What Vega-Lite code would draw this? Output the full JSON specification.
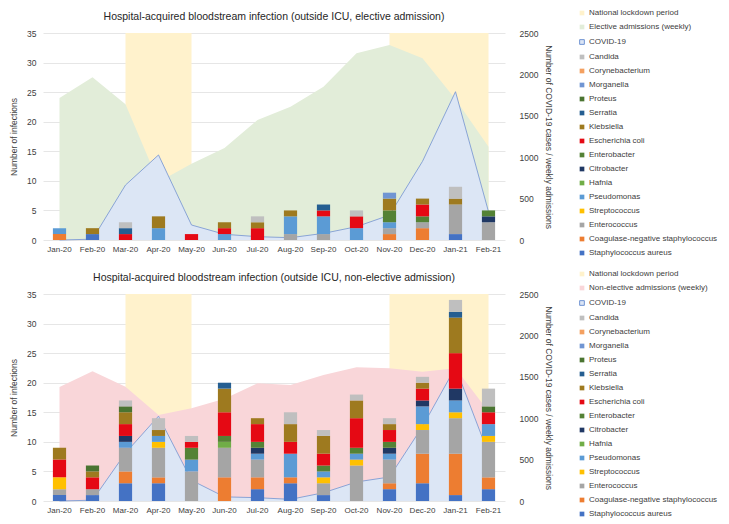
{
  "$schema": "https://vega.github.io/schema/vega-lite/v6.json",
  "padding": {"left": 9, "top": 9, "right": 0, "bottom": 0},
  "background": "white",
  "config": {
    "font": "Liberation Sans",
    "view": {"stroke": null},
    "axis": {"labelColor": "#404040", "titleColor": "#404040", "titleFontWeight": "normal", "labelFont": "Liberation Sans", "titleFont": "Liberation Sans"},
    "legend": {"labelColor": "#404040", "labelFont": "Liberation Sans"}
  },
  "datasets": {
    "top_lines": [
      {"month": "Mar-20", "series": "National lockdown period", "period": "1", "value": 2500},
      {"month": "Apr-20", "series": "National lockdown period", "period": "1", "value": 2500},
      {"month": "May-20", "series": "National lockdown period", "period": "1", "value": 2500},
      {"month": "Nov-20", "series": "National lockdown period", "period": "2", "value": 2500},
      {"month": "Dec-20", "series": "National lockdown period", "period": "2", "value": 2500},
      {"month": "Jan-21", "series": "National lockdown period", "period": "2", "value": 2500},
      {"month": "Feb-21", "series": "National lockdown period", "period": "2", "value": 2500},
      {"month": "Jan-20", "series": "Elective admissions (weekly)", "period": "0", "value": 1715},
      {"month": "Feb-20", "series": "Elective admissions (weekly)", "period": "0", "value": 1965},
      {"month": "Mar-20", "series": "Elective admissions (weekly)", "period": "0", "value": 1640},
      {"month": "Apr-20", "series": "Elective admissions (weekly)", "period": "0", "value": 700},
      {"month": "May-20", "series": "Elective admissions (weekly)", "period": "0", "value": 920},
      {"month": "Jun-20", "series": "Elective admissions (weekly)", "period": "0", "value": 1110},
      {"month": "Jul-20", "series": "Elective admissions (weekly)", "period": "0", "value": 1450},
      {"month": "Aug-20", "series": "Elective admissions (weekly)", "period": "0", "value": 1610},
      {"month": "Sep-20", "series": "Elective admissions (weekly)", "period": "0", "value": 1850},
      {"month": "Oct-20", "series": "Elective admissions (weekly)", "period": "0", "value": 2255},
      {"month": "Nov-20", "series": "Elective admissions (weekly)", "period": "0", "value": 2355},
      {"month": "Dec-20", "series": "Elective admissions (weekly)", "period": "0", "value": 2195},
      {"month": "Jan-21", "series": "Elective admissions (weekly)", "period": "0", "value": 1700},
      {"month": "Feb-21", "series": "Elective admissions (weekly)", "period": "0", "value": 1125},
      {"month": "Jan-20", "series": "COVID-19", "period": "0", "value": 0},
      {"month": "Feb-20", "series": "COVID-19", "period": "0", "value": 10},
      {"month": "Mar-20", "series": "COVID-19", "period": "0", "value": 664},
      {"month": "Apr-20", "series": "COVID-19", "period": "0", "value": 1027},
      {"month": "May-20", "series": "COVID-19", "period": "0", "value": 181},
      {"month": "Jun-20", "series": "COVID-19", "period": "0", "value": 69},
      {"month": "Jul-20", "series": "COVID-19", "period": "0", "value": 40},
      {"month": "Aug-20", "series": "COVID-19", "period": "0", "value": 28},
      {"month": "Sep-20", "series": "COVID-19", "period": "0", "value": 80},
      {"month": "Oct-20", "series": "COVID-19", "period": "0", "value": 161},
      {"month": "Nov-20", "series": "COVID-19", "period": "0", "value": 300},
      {"month": "Dec-20", "series": "COVID-19", "period": "0", "value": 950},
      {"month": "Jan-21", "series": "COVID-19", "period": "0", "value": 1791},
      {"month": "Feb-21", "series": "COVID-19", "period": "0", "value": 342}
    ],
    "bottom_lines": [
      {"month": "Mar-20", "series": "National lockdown period", "period": "1", "value": 2500},
      {"month": "Apr-20", "series": "National lockdown period", "period": "1", "value": 2500},
      {"month": "May-20", "series": "National lockdown period", "period": "1", "value": 2500},
      {"month": "Nov-20", "series": "National lockdown period", "period": "2", "value": 2500},
      {"month": "Dec-20", "series": "National lockdown period", "period": "2", "value": 2500},
      {"month": "Jan-21", "series": "National lockdown period", "period": "2", "value": 2500},
      {"month": "Feb-21", "series": "National lockdown period", "period": "2", "value": 2500},
      {"month": "Jan-20", "series": "Non-elective admissions (weekly)", "period": "0", "value": 1378},
      {"month": "Feb-20", "series": "Non-elective admissions (weekly)", "period": "0", "value": 1568},
      {"month": "Mar-20", "series": "Non-elective admissions (weekly)", "period": "0", "value": 1380},
      {"month": "Apr-20", "series": "Non-elective admissions (weekly)", "period": "0", "value": 1039},
      {"month": "May-20", "series": "Non-elective admissions (weekly)", "period": "0", "value": 1120},
      {"month": "Jun-20", "series": "Non-elective admissions (weekly)", "period": "0", "value": 1235},
      {"month": "Jul-20", "series": "Non-elective admissions (weekly)", "period": "0", "value": 1421},
      {"month": "Aug-20", "series": "Non-elective admissions (weekly)", "period": "0", "value": 1401},
      {"month": "Sep-20", "series": "Non-elective admissions (weekly)", "period": "0", "value": 1522},
      {"month": "Oct-20", "series": "Non-elective admissions (weekly)", "period": "0", "value": 1614},
      {"month": "Nov-20", "series": "Non-elective admissions (weekly)", "period": "0", "value": 1602},
      {"month": "Dec-20", "series": "Non-elective admissions (weekly)", "period": "0", "value": 1562},
      {"month": "Jan-21", "series": "Non-elective admissions (weekly)", "period": "0", "value": 1602},
      {"month": "Feb-21", "series": "Non-elective admissions (weekly)", "period": "0", "value": 1080},
      {"month": "Jan-20", "series": "COVID-19", "period": "0", "value": 0},
      {"month": "Feb-20", "series": "COVID-19", "period": "0", "value": 10},
      {"month": "Mar-20", "series": "COVID-19", "period": "0", "value": 580},
      {"month": "Apr-20", "series": "COVID-19", "period": "0", "value": 1025},
      {"month": "May-20", "series": "COVID-19", "period": "0", "value": 250},
      {"month": "Jun-20", "series": "COVID-19", "period": "0", "value": 50},
      {"month": "Jul-20", "series": "COVID-19", "period": "0", "value": 40},
      {"month": "Aug-20", "series": "COVID-19", "period": "0", "value": 20},
      {"month": "Sep-20", "series": "COVID-19", "period": "0", "value": 100},
      {"month": "Oct-20", "series": "COVID-19", "period": "0", "value": 230},
      {"month": "Nov-20", "series": "COVID-19", "period": "0", "value": 290},
      {"month": "Dec-20", "series": "COVID-19", "period": "0", "value": 900},
      {"month": "Jan-21", "series": "COVID-19", "period": "0", "value": 1615},
      {"month": "Feb-21", "series": "COVID-19", "period": "0", "value": 570}
    ],
    "top_bars": [
      {"month": "Jan-20", "series": "Coagulase-negative staphylococcus", "n": 1},
      {"month": "Jan-20", "series": "Pseudomonas", "n": 1},
      {"month": "Feb-20", "series": "Staphylococcus aureus", "n": 1},
      {"month": "Feb-20", "series": "Klebsiella", "n": 1},
      {"month": "Mar-20", "series": "Escherichia coli", "n": 1},
      {"month": "Mar-20", "series": "Serratia", "n": 1},
      {"month": "Mar-20", "series": "Candida", "n": 1},
      {"month": "Apr-20", "series": "Pseudomonas", "n": 2},
      {"month": "Apr-20", "series": "Klebsiella", "n": 2},
      {"month": "May-20", "series": "Escherichia coli", "n": 1},
      {"month": "Jun-20", "series": "Pseudomonas", "n": 1},
      {"month": "Jun-20", "series": "Escherichia coli", "n": 1},
      {"month": "Jun-20", "series": "Klebsiella", "n": 1},
      {"month": "Jul-20", "series": "Escherichia coli", "n": 2},
      {"month": "Jul-20", "series": "Klebsiella", "n": 1},
      {"month": "Jul-20", "series": "Candida", "n": 1},
      {"month": "Aug-20", "series": "Enterococcus", "n": 1},
      {"month": "Aug-20", "series": "Pseudomonas", "n": 3},
      {"month": "Aug-20", "series": "Klebsiella", "n": 1},
      {"month": "Sep-20", "series": "Enterococcus", "n": 1},
      {"month": "Sep-20", "series": "Pseudomonas", "n": 3},
      {"month": "Sep-20", "series": "Escherichia coli", "n": 1},
      {"month": "Sep-20", "series": "Serratia", "n": 1},
      {"month": "Oct-20", "series": "Pseudomonas", "n": 2},
      {"month": "Oct-20", "series": "Escherichia coli", "n": 2},
      {"month": "Oct-20", "series": "Candida", "n": 1},
      {"month": "Nov-20", "series": "Coagulase-negative staphylococcus", "n": 1},
      {"month": "Nov-20", "series": "Enterococcus", "n": 1},
      {"month": "Nov-20", "series": "Pseudomonas", "n": 1},
      {"month": "Nov-20", "series": "Enterobacter", "n": 2},
      {"month": "Nov-20", "series": "Klebsiella", "n": 2},
      {"month": "Nov-20", "series": "Morganella", "n": 1},
      {"month": "Dec-20", "series": "Coagulase-negative staphylococcus", "n": 2},
      {"month": "Dec-20", "series": "Enterococcus", "n": 1},
      {"month": "Dec-20", "series": "Enterobacter", "n": 1},
      {"month": "Dec-20", "series": "Escherichia coli", "n": 2},
      {"month": "Dec-20", "series": "Klebsiella", "n": 1},
      {"month": "Jan-21", "series": "Staphylococcus aureus", "n": 1},
      {"month": "Jan-21", "series": "Enterococcus", "n": 5},
      {"month": "Jan-21", "series": "Klebsiella", "n": 1},
      {"month": "Jan-21", "series": "Candida", "n": 2},
      {"month": "Feb-21", "series": "Enterococcus", "n": 3},
      {"month": "Feb-21", "series": "Citrobacter", "n": 1},
      {"month": "Feb-21", "series": "Enterobacter", "n": 1}
    ],
    "bottom_bars": [
      {"month": "Jan-20", "series": "Staphylococcus aureus", "n": 1},
      {"month": "Jan-20", "series": "Enterococcus", "n": 1},
      {"month": "Jan-20", "series": "Streptococcus", "n": 2},
      {"month": "Jan-20", "series": "Escherichia coli", "n": 3},
      {"month": "Jan-20", "series": "Klebsiella", "n": 2},
      {"month": "Feb-20", "series": "Staphylococcus aureus", "n": 1},
      {"month": "Feb-20", "series": "Enterococcus", "n": 1},
      {"month": "Feb-20", "series": "Escherichia coli", "n": 2},
      {"month": "Feb-20", "series": "Klebsiella", "n": 1},
      {"month": "Feb-20", "series": "Proteus", "n": 1},
      {"month": "Mar-20", "series": "Staphylococcus aureus", "n": 3},
      {"month": "Mar-20", "series": "Coagulase-negative staphylococcus", "n": 2},
      {"month": "Mar-20", "series": "Enterococcus", "n": 4},
      {"month": "Mar-20", "series": "Pseudomonas", "n": 1},
      {"month": "Mar-20", "series": "Citrobacter", "n": 1},
      {"month": "Mar-20", "series": "Escherichia coli", "n": 2},
      {"month": "Mar-20", "series": "Klebsiella", "n": 2},
      {"month": "Mar-20", "series": "Proteus", "n": 1},
      {"month": "Mar-20", "series": "Candida", "n": 1},
      {"month": "Apr-20", "series": "Staphylococcus aureus", "n": 3},
      {"month": "Apr-20", "series": "Coagulase-negative staphylococcus", "n": 1},
      {"month": "Apr-20", "series": "Enterococcus", "n": 5},
      {"month": "Apr-20", "series": "Streptococcus", "n": 1},
      {"month": "Apr-20", "series": "Pseudomonas", "n": 1},
      {"month": "Apr-20", "series": "Klebsiella", "n": 1},
      {"month": "Apr-20", "series": "Candida", "n": 2},
      {"month": "May-20", "series": "Enterococcus", "n": 5},
      {"month": "May-20", "series": "Pseudomonas", "n": 2},
      {"month": "May-20", "series": "Enterobacter", "n": 2},
      {"month": "May-20", "series": "Escherichia coli", "n": 1},
      {"month": "May-20", "series": "Candida", "n": 1},
      {"month": "Jun-20", "series": "Coagulase-negative staphylococcus", "n": 4},
      {"month": "Jun-20", "series": "Enterococcus", "n": 5},
      {"month": "Jun-20", "series": "Hafnia", "n": 1},
      {"month": "Jun-20", "series": "Enterobacter", "n": 1},
      {"month": "Jun-20", "series": "Escherichia coli", "n": 4},
      {"month": "Jun-20", "series": "Klebsiella", "n": 4},
      {"month": "Jun-20", "series": "Serratia", "n": 1},
      {"month": "Jul-20", "series": "Staphylococcus aureus", "n": 2},
      {"month": "Jul-20", "series": "Coagulase-negative staphylococcus", "n": 2},
      {"month": "Jul-20", "series": "Enterococcus", "n": 3},
      {"month": "Jul-20", "series": "Pseudomonas", "n": 1},
      {"month": "Jul-20", "series": "Citrobacter", "n": 1},
      {"month": "Jul-20", "series": "Enterobacter", "n": 1},
      {"month": "Jul-20", "series": "Escherichia coli", "n": 3},
      {"month": "Jul-20", "series": "Klebsiella", "n": 1},
      {"month": "Aug-20", "series": "Staphylococcus aureus", "n": 3},
      {"month": "Aug-20", "series": "Coagulase-negative staphylococcus", "n": 1},
      {"month": "Aug-20", "series": "Pseudomonas", "n": 4},
      {"month": "Aug-20", "series": "Escherichia coli", "n": 2},
      {"month": "Aug-20", "series": "Klebsiella", "n": 3},
      {"month": "Aug-20", "series": "Candida", "n": 2},
      {"month": "Sep-20", "series": "Staphylococcus aureus", "n": 1},
      {"month": "Sep-20", "series": "Enterococcus", "n": 2},
      {"month": "Sep-20", "series": "Streptococcus", "n": 1},
      {"month": "Sep-20", "series": "Pseudomonas", "n": 1},
      {"month": "Sep-20", "series": "Enterobacter", "n": 1},
      {"month": "Sep-20", "series": "Escherichia coli", "n": 2},
      {"month": "Sep-20", "series": "Klebsiella", "n": 3},
      {"month": "Sep-20", "series": "Candida", "n": 1},
      {"month": "Oct-20", "series": "Enterococcus", "n": 6},
      {"month": "Oct-20", "series": "Streptococcus", "n": 1},
      {"month": "Oct-20", "series": "Pseudomonas", "n": 1},
      {"month": "Oct-20", "series": "Enterobacter", "n": 1},
      {"month": "Oct-20", "series": "Escherichia coli", "n": 5},
      {"month": "Oct-20", "series": "Klebsiella", "n": 3},
      {"month": "Oct-20", "series": "Candida", "n": 1},
      {"month": "Nov-20", "series": "Staphylococcus aureus", "n": 2},
      {"month": "Nov-20", "series": "Coagulase-negative staphylococcus", "n": 1},
      {"month": "Nov-20", "series": "Enterococcus", "n": 4},
      {"month": "Nov-20", "series": "Pseudomonas", "n": 1},
      {"month": "Nov-20", "series": "Citrobacter", "n": 1},
      {"month": "Nov-20", "series": "Enterobacter", "n": 1},
      {"month": "Nov-20", "series": "Escherichia coli", "n": 2},
      {"month": "Nov-20", "series": "Klebsiella", "n": 1},
      {"month": "Nov-20", "series": "Candida", "n": 1},
      {"month": "Dec-20", "series": "Staphylococcus aureus", "n": 3},
      {"month": "Dec-20", "series": "Coagulase-negative staphylococcus", "n": 5},
      {"month": "Dec-20", "series": "Enterococcus", "n": 4},
      {"month": "Dec-20", "series": "Streptococcus", "n": 1},
      {"month": "Dec-20", "series": "Pseudomonas", "n": 3},
      {"month": "Dec-20", "series": "Citrobacter", "n": 1},
      {"month": "Dec-20", "series": "Escherichia coli", "n": 2},
      {"month": "Dec-20", "series": "Klebsiella", "n": 1},
      {"month": "Dec-20", "series": "Candida", "n": 1},
      {"month": "Jan-21", "series": "Staphylococcus aureus", "n": 1},
      {"month": "Jan-21", "series": "Coagulase-negative staphylococcus", "n": 7},
      {"month": "Jan-21", "series": "Enterococcus", "n": 6},
      {"month": "Jan-21", "series": "Streptococcus", "n": 1},
      {"month": "Jan-21", "series": "Pseudomonas", "n": 2},
      {"month": "Jan-21", "series": "Citrobacter", "n": 2},
      {"month": "Jan-21", "series": "Escherichia coli", "n": 6},
      {"month": "Jan-21", "series": "Klebsiella", "n": 6},
      {"month": "Jan-21", "series": "Serratia", "n": 1},
      {"month": "Jan-21", "series": "Candida", "n": 2},
      {"month": "Feb-21", "series": "Staphylococcus aureus", "n": 2},
      {"month": "Feb-21", "series": "Coagulase-negative staphylococcus", "n": 2},
      {"month": "Feb-21", "series": "Enterococcus", "n": 6},
      {"month": "Feb-21", "series": "Streptococcus", "n": 1},
      {"month": "Feb-21", "series": "Pseudomonas", "n": 2},
      {"month": "Feb-21", "series": "Escherichia coli", "n": 2},
      {"month": "Feb-21", "series": "Proteus", "n": 1},
      {"month": "Feb-21", "series": "Candida", "n": 3}
    ]
  },
  "resolve": {"scale": {"color": "independent"}, "legend": {"color": "independent"}},
  "spacing": 13,
  "vconcat": [
    {
      "width": 462,
      "height": 207,
      "title": {"text": "Hospital-acquired bloodstream infection (outside ICU, elective admission)", "fontSize": 10.5, "fontWeight": "normal", "color": "#262626", "offset": -13, "anchor": "middle", "font": "Liberation Sans"},
      "resolve": {"scale": {"y": "independent"}},
      "layer": [
        {
          "data": {"name": "top_lines"},
          "transform": [{"filter": "datum.series === 'National lockdown period'"}],
          "mark": {"type": "area", "opacity": 1},
          "encoding": {
            "x": {"field": "month", "type": "nominal", "bandPosition": 0.5, "scale": {"domain": ["Jan-20","Feb-20","Mar-20","Apr-20","May-20","Jun-20","Jul-20","Aug-20","Sep-20","Oct-20","Nov-20","Dec-20","Jan-21","Feb-21"], "paddingInner": 0.6, "paddingOuter": 0.3}, "axis": {"title": null, "labelAngle": 0, "ticks": false, "domain": false, "labelFontSize": 8, "labelPadding": 5}},
            "y": {"field": "value", "type": "quantitative", "stack": null, "scale": {"domain": [0, 2500]}, "axis": null},
            "detail": {"field": "period"},
            "color": {"field": "series", "type": "nominal",
              "scale": {"domain": ["National lockdown period","Elective admissions (weekly)","COVID-19","Candida","Corynebacterium","Morganella","Proteus","Serratia","Klebsiella","Escherichia coli","Enterobacter","Citrobacter","Hafnia","Pseudomonas","Streptococcus","Enterococcus","Coagulase-negative staphylococcus","Staphylococcus aureus"],
                "range": ["#FFF2CC","#E2EDD9","#DCE6F5","#BFBFBF","#F4A060","#7095D3","#4A7431","#255E91","#9E7A1F","#E50914","#548235","#203864","#70AD47","#5B9BD5","#FFC000","#A5A5A5","#ED7D31","#4472C4"]},
              "legend": {"title": null, "orient": "none", "legendX": 535, "legendY": -24, "symbolType": "square", "symbolSize": 22, "symbolOpacity": 1, "labelFontSize": 8, "rowPadding": 6, "labelOffset": 3, "padding": 0,
                "encode": {"symbols": {"update": {"stroke": {"signal": "datum.value === 'COVID-19' ? '#6F93D2' : null"}, "strokeWidth": {"value": 1}}}}}}
          }
        },
        {
          "data": {"name": "top_lines"},
          "transform": [{"filter": "datum.series === 'Elective admissions (weekly)'"}],
          "mark": {"type": "area", "opacity": 1},
          "encoding": {
            "x": {"field": "month", "type": "nominal", "bandPosition": 0.5},
            "y": {"field": "value", "type": "quantitative", "stack": null, "scale": {"domain": [0, 2500]}, "axis": {"orient": "right", "values": [0, 500, 1000, 1500, 2000, 2500], "format": "d", "ticks": false, "domain": false, "grid": false, "labelFontSize": 8.5, "labelPadding": 14, "title": "Number of COVID-19 cases / weekly admissions", "titleFontSize": 8.5, "titlePadding": 6}},
            "color": {"field": "series", "type": "nominal",
              "scale": {"domain": ["National lockdown period","Elective admissions (weekly)","COVID-19","Candida","Corynebacterium","Morganella","Proteus","Serratia","Klebsiella","Escherichia coli","Enterobacter","Citrobacter","Hafnia","Pseudomonas","Streptococcus","Enterococcus","Coagulase-negative staphylococcus","Staphylococcus aureus"],
                "range": ["#FFF2CC","#E2EDD9","#DCE6F5","#BFBFBF","#F4A060","#7095D3","#4A7431","#255E91","#9E7A1F","#E50914","#548235","#203864","#70AD47","#5B9BD5","#FFC000","#A5A5A5","#ED7D31","#4472C4"]}}
          }
        },
        {
          "data": {"name": "top_lines"},
          "transform": [{"filter": "datum.series === 'COVID-19'"}],
          "mark": {"type": "area", "opacity": 1},
          "encoding": {
            "x": {"field": "month", "type": "nominal", "bandPosition": 0.5},
            "y": {"field": "value", "type": "quantitative", "stack": null, "scale": {"domain": [0, 2500]}, "axis": null},
            "color": {"field": "series", "type": "nominal",
              "scale": {"domain": ["National lockdown period","Elective admissions (weekly)","COVID-19","Candida","Corynebacterium","Morganella","Proteus","Serratia","Klebsiella","Escherichia coli","Enterobacter","Citrobacter","Hafnia","Pseudomonas","Streptococcus","Enterococcus","Coagulase-negative staphylococcus","Staphylococcus aureus"],
                "range": ["#FFF2CC","#E2EDD9","#DCE6F5","#BFBFBF","#F4A060","#7095D3","#4A7431","#255E91","#9E7A1F","#E50914","#548235","#203864","#70AD47","#5B9BD5","#FFC000","#A5A5A5","#ED7D31","#4472C4"]}}
          }
        },
        {
          "data": {"name": "top_lines"},
          "transform": [{"filter": "datum.series === 'COVID-19'"}],
          "mark": {"type": "line", "color": "#7F9CD4", "strokeWidth": 0.9},
          "encoding": {
            "x": {"field": "month", "type": "nominal", "bandPosition": 0.5},
            "y": {"field": "value", "type": "quantitative", "stack": null, "scale": {"domain": [0, 2500]}, "axis": null}
          }
        },
        {
          "data": {"name": "top_bars"},
          "transform": [{"calculate": "indexof(['Staphylococcus aureus','Coagulase-negative staphylococcus','Enterococcus','Streptococcus','Pseudomonas','Hafnia','Citrobacter','Enterobacter','Escherichia coli','Klebsiella','Serratia','Proteus','Morganella','Corynebacterium','Candida'], datum.series)", "as": "stack_rank"}],
          "mark": {"type": "bar"},
          "encoding": {
            "x": {"field": "month", "type": "nominal"},
            "y": {"field": "n", "type": "quantitative", "stack": "zero", "scale": {"domain": [0, 35]}, "axis": {"orient": "left", "values": [0, 5, 10, 15, 20, 25, 30, 35], "ticks": false, "domain": false, "grid": true, "gridColor": "#E6E6E6", "labelFontSize": 8.5, "labelPadding": 7, "title": "Number of infections", "titleFontSize": 8.5, "titlePadding": 8}},
            "order": {"field": "stack_rank", "type": "quantitative", "sort": "ascending"},
            "color": {"field": "series", "type": "nominal",
              "scale": {"domain": ["National lockdown period","Elective admissions (weekly)","COVID-19","Candida","Corynebacterium","Morganella","Proteus","Serratia","Klebsiella","Escherichia coli","Enterobacter","Citrobacter","Hafnia","Pseudomonas","Streptococcus","Enterococcus","Coagulase-negative staphylococcus","Staphylococcus aureus"],
                "range": ["#FFF2CC","#E2EDD9","#DCE6F5","#BFBFBF","#F4A060","#7095D3","#4A7431","#255E91","#9E7A1F","#E50914","#548235","#203864","#70AD47","#5B9BD5","#FFC000","#A5A5A5","#ED7D31","#4472C4"]}}
          }
        }
      ]
    },
    {
      "width": 462,
      "height": 207,
      "title": {"text": "Hospital-acquired bloodstream infection (outside ICU, non-elective admission)", "fontSize": 10.5, "fontWeight": "normal", "color": "#262626", "offset": -13, "anchor": "middle", "font": "Liberation Sans"},
      "resolve": {"scale": {"y": "independent"}},
      "layer": [
        {
          "data": {"name": "bottom_lines"},
          "transform": [{"filter": "datum.series === 'National lockdown period'"}],
          "mark": {"type": "area", "opacity": 1},
          "encoding": {
            "x": {"field": "month", "type": "nominal", "bandPosition": 0.5, "scale": {"domain": ["Jan-20","Feb-20","Mar-20","Apr-20","May-20","Jun-20","Jul-20","Aug-20","Sep-20","Oct-20","Nov-20","Dec-20","Jan-21","Feb-21"], "paddingInner": 0.6, "paddingOuter": 0.3}, "axis": {"title": null, "labelAngle": 0, "ticks": false, "domain": false, "labelFontSize": 8, "labelPadding": 5}},
            "y": {"field": "value", "type": "quantitative", "stack": null, "scale": {"domain": [0, 2500]}, "axis": null},
            "detail": {"field": "period"},
            "color": {"field": "series", "type": "nominal",
              "scale": {"domain": ["National lockdown period","Non-elective admissions (weekly)","COVID-19","Candida","Corynebacterium","Morganella","Proteus","Serratia","Klebsiella","Escherichia coli","Enterobacter","Citrobacter","Hafnia","Pseudomonas","Streptococcus","Enterococcus","Coagulase-negative staphylococcus","Staphylococcus aureus"],
                "range": ["#FFF2CC","#F9D6D9","#DCE6F5","#BFBFBF","#F4A060","#7095D3","#4A7431","#255E91","#9E7A1F","#E50914","#548235","#203864","#70AD47","#5B9BD5","#FFC000","#A5A5A5","#ED7D31","#4472C4"]},
              "legend": {"title": null, "orient": "none", "legendX": 535, "legendY": -24, "symbolType": "square", "symbolSize": 22, "symbolOpacity": 1, "labelFontSize": 8, "rowPadding": 6, "labelOffset": 3, "padding": 0,
                "encode": {"symbols": {"update": {"stroke": {"signal": "datum.value === 'COVID-19' ? '#6F93D2' : null"}, "strokeWidth": {"value": 1}}}}}}
          }
        },
        {
          "data": {"name": "bottom_lines"},
          "transform": [{"filter": "datum.series === 'Non-elective admissions (weekly)'"}],
          "mark": {"type": "area", "opacity": 1},
          "encoding": {
            "x": {"field": "month", "type": "nominal", "bandPosition": 0.5},
            "y": {"field": "value", "type": "quantitative", "stack": null, "scale": {"domain": [0, 2500]}, "axis": {"orient": "right", "values": [0, 500, 1000, 1500, 2000, 2500], "format": "d", "ticks": false, "domain": false, "grid": false, "labelFontSize": 8.5, "labelPadding": 14, "title": "Number of COVID-19 cases / weekly admissions", "titleFontSize": 8.5, "titlePadding": 6}},
            "color": {"field": "series", "type": "nominal",
              "scale": {"domain": ["National lockdown period","Non-elective admissions (weekly)","COVID-19","Candida","Corynebacterium","Morganella","Proteus","Serratia","Klebsiella","Escherichia coli","Enterobacter","Citrobacter","Hafnia","Pseudomonas","Streptococcus","Enterococcus","Coagulase-negative staphylococcus","Staphylococcus aureus"],
                "range": ["#FFF2CC","#F9D6D9","#DCE6F5","#BFBFBF","#F4A060","#7095D3","#4A7431","#255E91","#9E7A1F","#E50914","#548235","#203864","#70AD47","#5B9BD5","#FFC000","#A5A5A5","#ED7D31","#4472C4"]}}
          }
        },
        {
          "data": {"name": "bottom_lines"},
          "transform": [{"filter": "datum.series === 'COVID-19'"}],
          "mark": {"type": "area", "opacity": 1},
          "encoding": {
            "x": {"field": "month", "type": "nominal", "bandPosition": 0.5},
            "y": {"field": "value", "type": "quantitative", "stack": null, "scale": {"domain": [0, 2500]}, "axis": null},
            "color": {"field": "series", "type": "nominal",
              "scale": {"domain": ["National lockdown period","Non-elective admissions (weekly)","COVID-19","Candida","Corynebacterium","Morganella","Proteus","Serratia","Klebsiella","Escherichia coli","Enterobacter","Citrobacter","Hafnia","Pseudomonas","Streptococcus","Enterococcus","Coagulase-negative staphylococcus","Staphylococcus aureus"],
                "range": ["#FFF2CC","#F9D6D9","#DCE6F5","#BFBFBF","#F4A060","#7095D3","#4A7431","#255E91","#9E7A1F","#E50914","#548235","#203864","#70AD47","#5B9BD5","#FFC000","#A5A5A5","#ED7D31","#4472C4"]}}
          }
        },
        {
          "data": {"name": "bottom_lines"},
          "transform": [{"filter": "datum.series === 'COVID-19'"}],
          "mark": {"type": "line", "color": "#7F9CD4", "strokeWidth": 0.9},
          "encoding": {
            "x": {"field": "month", "type": "nominal", "bandPosition": 0.5},
            "y": {"field": "value", "type": "quantitative", "stack": null, "scale": {"domain": [0, 2500]}, "axis": null}
          }
        },
        {
          "data": {"name": "bottom_bars"},
          "transform": [{"calculate": "indexof(['Staphylococcus aureus','Coagulase-negative staphylococcus','Enterococcus','Streptococcus','Pseudomonas','Hafnia','Citrobacter','Enterobacter','Escherichia coli','Klebsiella','Serratia','Proteus','Morganella','Corynebacterium','Candida'], datum.series)", "as": "stack_rank"}],
          "mark": {"type": "bar"},
          "encoding": {
            "x": {"field": "month", "type": "nominal"},
            "y": {"field": "n", "type": "quantitative", "stack": "zero", "scale": {"domain": [0, 35]}, "axis": {"orient": "left", "values": [0, 5, 10, 15, 20, 25, 30, 35], "ticks": false, "domain": false, "grid": true, "gridColor": "#E6E6E6", "labelFontSize": 8.5, "labelPadding": 7, "title": "Number of infections", "titleFontSize": 8.5, "titlePadding": 8}},
            "order": {"field": "stack_rank", "type": "quantitative", "sort": "ascending"},
            "color": {"field": "series", "type": "nominal",
              "scale": {"domain": ["National lockdown period","Non-elective admissions (weekly)","COVID-19","Candida","Corynebacterium","Morganella","Proteus","Serratia","Klebsiella","Escherichia coli","Enterobacter","Citrobacter","Hafnia","Pseudomonas","Streptococcus","Enterococcus","Coagulase-negative staphylococcus","Staphylococcus aureus"],
                "range": ["#FFF2CC","#F9D6D9","#DCE6F5","#BFBFBF","#F4A060","#7095D3","#4A7431","#255E91","#9E7A1F","#E50914","#548235","#203864","#70AD47","#5B9BD5","#FFC000","#A5A5A5","#ED7D31","#4472C4"]}}
          }
        }
      ]
    }
  ]
}
